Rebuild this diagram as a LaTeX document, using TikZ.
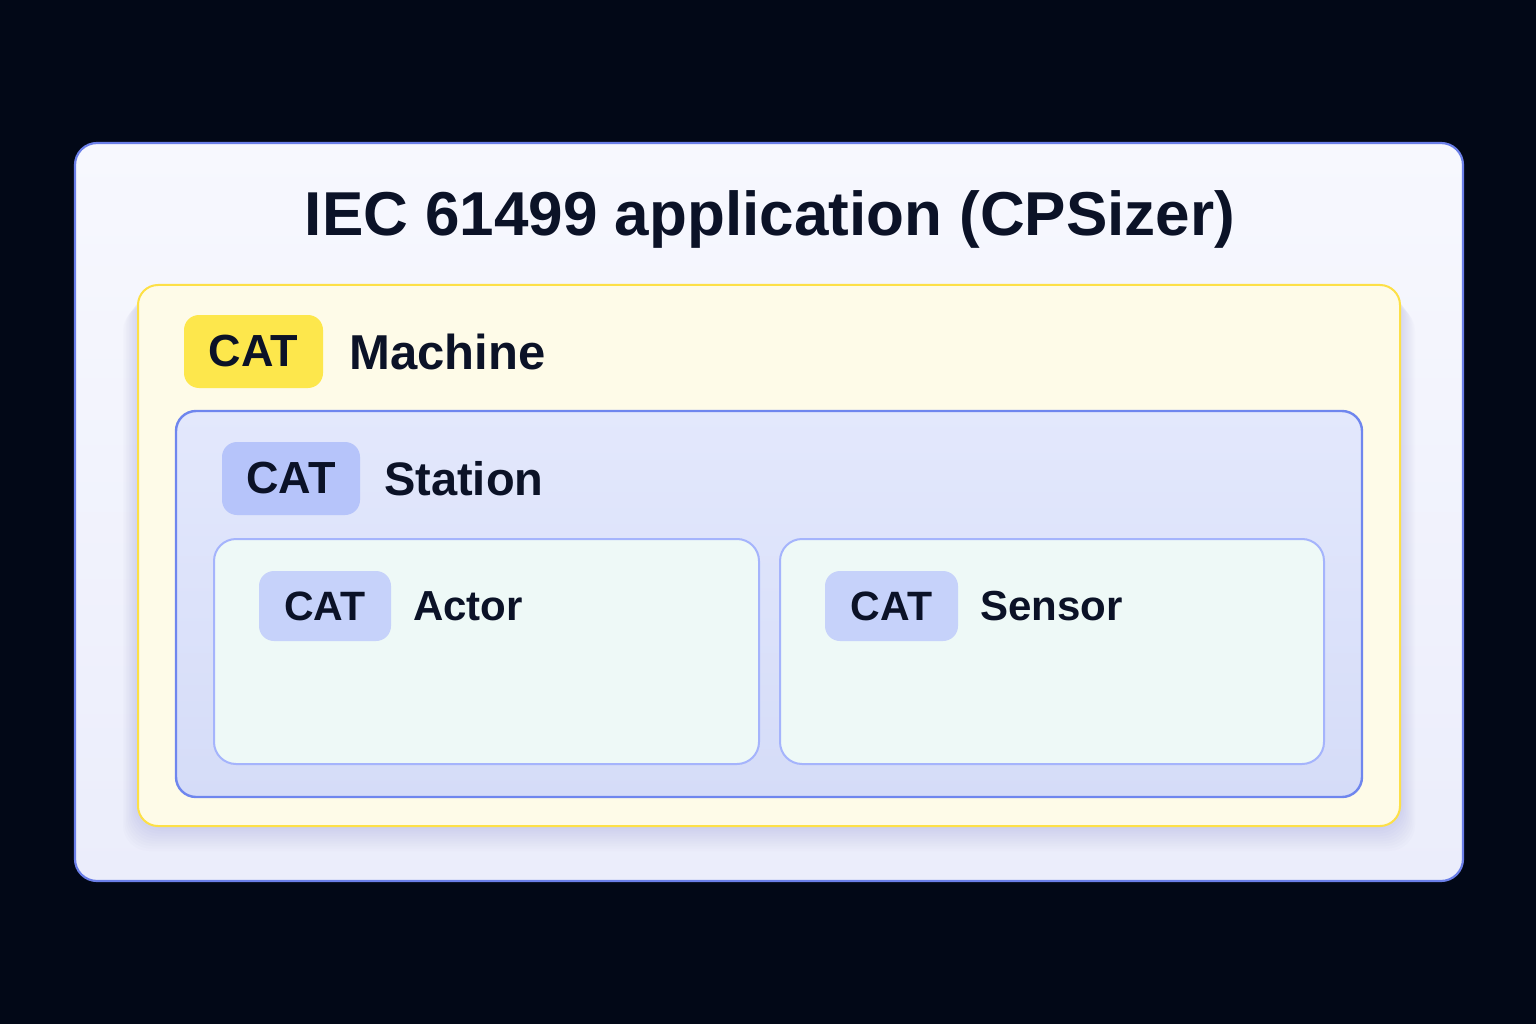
\documentclass[tikz,border=0pt]{standalone}
\usepackage{fontspec}
\setmainfont{Liberation Sans}
\usetikzlibrary{positioning}
\definecolor{bgdark}{HTML}{020817}
\definecolor{ink}{HTML}{0B1227}
\definecolor{outerborder}{HTML}{6B7FE8}
\definecolor{outertop}{HTML}{F7F8FE}
\definecolor{outerbot}{HTML}{EBEDFB}
\definecolor{machfill}{HTML}{FEFBE8}
\definecolor{machborder}{HTML}{FDE047}
\definecolor{machbadge}{HTML}{FDE74C}
\definecolor{stattop}{HTML}{E3E8FC}
\definecolor{statbot}{HTML}{D5DCF8}
\definecolor{statborder}{HTML}{6F86EE}
\definecolor{statbadge}{HTML}{B6C4FA}
\definecolor{leaffill}{HTML}{EEF9F7}
\definecolor{leafborder}{HTML}{A5B4FC}
\definecolor{leafbadge}{HTML}{C6D2FA}
\tikzset{
  box/.style={draw, rounded corners=#1},
  badge/.style={rounded corners=15pt, inner sep=0pt, text=ink, font=\bfseries\fontsize{#1}{#1}\selectfont},
  lbl/.style={inner sep=0pt, text=ink, font=\bfseries\fontsize{#1}{#1}\selectfont},
}
\begin{document}
\begin{tikzpicture}[x=1pt,y=-1pt]
\fill[bgdark] (0,0) rectangle (1536,1024);
\useasboundingbox (0,0) rectangle (1536,1024);
% outer application box
\draw[outerborder, line width=2.2pt, rounded corners=22pt, top color=outertop, bottom color=outerbot] (75,143) rectangle (1463,881);
\node[lbl=62, anchor=base] (title) at (770,236) {IEC 61499 application (CPSizer)};
% soft shadow of machine box
\foreach \s in {1,...,10}{
  \fill[black!40!blue!60, opacity=0.02, rounded corners=26pt] ({138-1.5*\s},{285+2*\s}) rectangle ({1400+1.5*\s},{826+2.5*\s});
}
% machine box
\draw[machborder, line width=2pt, fill=machfill, rounded corners=20pt] (138,285) rectangle (1400,826);
\node[badge=45, fill=machbadge, minimum width=139pt, minimum height=73pt] (catm) at (253.5,351.5) {CAT};
\node[lbl=49, anchor=west] (machine) at (349,351.5) {Machine};
% station box
\draw[statborder, line width=2.4pt, top color=stattop, bottom color=statbot, rounded corners=20pt] (176,411) rectangle (1362,797);
\node[badge=45, fill=statbadge, minimum width=138pt, minimum height=73pt] (cats) at (291,478.5) {CAT};
\node[lbl=47, anchor=west] (station) at (384,478.5) {Station};
% actor box
\draw[leafborder, line width=2pt, fill=leaffill, rounded corners=22pt] (214,539) rectangle (759,764);
\node[badge=41, fill=leafbadge, minimum width=132pt, minimum height=70pt] (cata) at (325,606) {CAT};
\node[lbl=42, anchor=west] (actor) at (413,606) {Actor};
% sensor box
\draw[leafborder, line width=2pt, fill=leaffill, rounded corners=22pt] (780,539) rectangle (1324,764);
\node[badge=41, fill=leafbadge, minimum width=133pt, minimum height=70pt] (catsn) at (891.5,606) {CAT};
\node[lbl=42, anchor=west] (sensor) at (980,606) {Sensor};
\end{tikzpicture}
\end{document}
